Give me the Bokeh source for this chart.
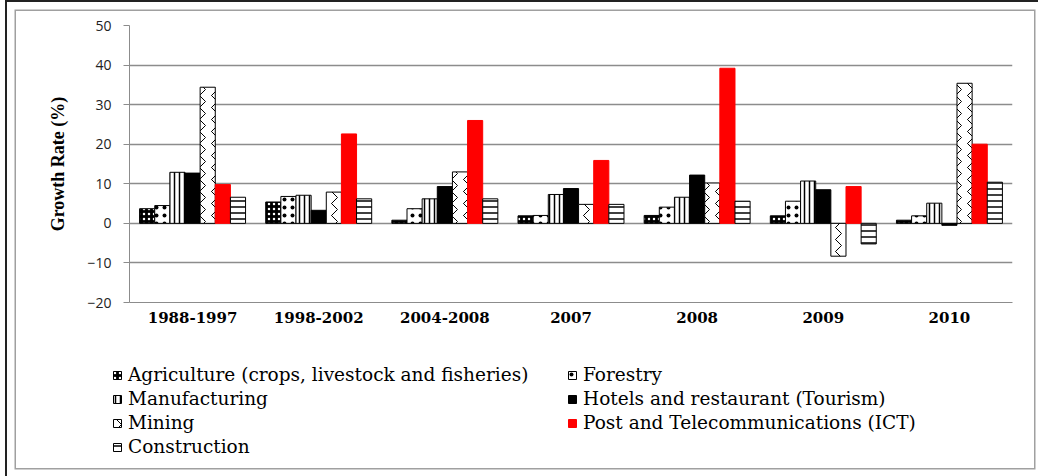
from bokeh.plotting import figure
from bokeh.layouts import column, row
from bokeh.models import (FactorRange, Range1d, Legend, LegendItem,
                          SingleIntervalTicker, ColumnDataSource)
from bokeh.transform import dodge
from bokeh.embed import file_html
from bokeh.resources import INLINE

periods = ["1988-1997", "1998-2002", "2004-2008", "2007", "2008", "2009", "2010"]
agriculture = [3.7, 5.4, 0.8, 1.9, 2.0, 1.9, 0.8]
forestry = [4.5, 6.8, 3.7, 2.0, 4.1, 5.6, 1.9]
manufacturing = [12.9, 7.1, 6.2, 7.3, 6.6, 10.7, 5.1]
hotels = [12.7, 3.3, 9.3, 8.8, 12.2, 8.5, -0.5]
mining = [34.4, 7.9, 13.0, 4.8, 10.2, -8.3, 35.4]
ict = [9.8, 22.6, 26.0, 15.9, 39.2, 9.3, 20.0]
construction = [6.6, 6.2, 6.2, 4.8, 5.6, -5.2, 10.4]

series_names = ["Agriculture (crops, livestock and fisheries)", "Forestry", "Manufacturing",
                "Hotels and restaurant (Tourism)", "Mining", "Post and Telecommunications (ICT)",
                "Construction"]
series_values = [agriculture, forestry, manufacturing, hotels, mining, ict, construction]

styles = [
    dict(fill_color="black", line_color="black", hatch_pattern="dot", hatch_color="white", hatch_scale=5, hatch_weight=2),
    dict(fill_color="white", line_color="black", hatch_pattern="dot", hatch_color="black", hatch_scale=8, hatch_weight=3),
    dict(fill_color="white", line_color="black", hatch_pattern="vertical_line", hatch_color="black", hatch_scale=5, hatch_weight=1.5),
    dict(fill_color="black", line_color="black"),
    dict(fill_color="white", line_color="black", hatch_pattern="vertical_wave", hatch_color="black", hatch_scale=12, hatch_weight=1),
    dict(fill_color="#ff0000", line_color="#ff0000"),
    dict(fill_color="white", line_color="black", hatch_pattern="horizontal_line", hatch_color="black", hatch_scale=6, hatch_weight=1.5),
]

data = {"period": periods}
for i, v in enumerate(series_values):
    data[f"s{i}"] = v
source = ColumnDataSource(data)

W = 1018
p = figure(width=W, height=329, x_range=FactorRange(*periods), y_range=Range1d(-20, 50),
           output_backend="svg", toolbar_location=None,
           min_border_left=113, min_border_right=22, min_border_top=14, min_border_bottom=38)
p.outline_line_color = None
p.xgrid.grid_line_color = None
p.ygrid.grid_line_color = "#8c8c8c"
p.ygrid.grid_line_width = 1.3

p.yaxis.ticker = SingleIntervalTicker(interval=10)
p.yaxis.axis_line_color = "#8c8c8c"
p.yaxis.major_tick_line_color = "#8c8c8c"
p.yaxis.major_tick_out = 6
p.yaxis.major_tick_in = 0
p.yaxis.minor_tick_line_color = None
p.yaxis.major_label_text_font = "Open Sans"
p.yaxis.major_label_text_font_size = "14px"
p.yaxis.major_label_text_color = "#222222"
p.yaxis.major_label_standoff = 12
p.yaxis.axis_label = "Growth Rate (%)"
p.yaxis.axis_label_text_font = "Liberation Serif"
p.yaxis.axis_label_text_font_style = "bold"
p.yaxis.axis_label_text_font_size = "18px"
p.yaxis.axis_label_text_color = "black"
p.yaxis.axis_label_standoff = 16

p.xaxis.axis_line_color = "#8c8c8c"
p.xaxis.major_tick_line_color = None
p.xaxis.major_tick_out = 0
p.xaxis.major_label_text_font = "DejaVu Serif"
p.xaxis.major_label_text_font_style = "bold"
p.xaxis.major_label_text_font_size = "15px"
p.xaxis.major_label_text_color = "black"
p.xaxis.major_label_standoff = 9

for i in range(7):
    p.vbar(x=dodge("period", (i - 3) * 0.12, range=p.x_range), top=f"s{i}", bottom=0,
           width=0.12, source=source, line_width=1, **styles[i])

# legend panel (swatch renderers sit outside the visible range; only the legend shows them)
pl = figure(width=W, height=128, x_range=Range1d(0, 1), y_range=Range1d(0, 1),
            x_axis_type=None, y_axis_type=None, output_backend="svg", toolbar_location=None,
            min_border=0, min_border_left=0, min_border_right=0, min_border_top=0, min_border_bottom=0)
pl.outline_line_color = None
pl.xgrid.grid_line_color = None
pl.ygrid.grid_line_color = None
leg_renderers = []
for i in range(7):
    r = pl.vbar(x=[5], top=[5], bottom=[4], width=0.1, line_width=1, **styles[i])
    leg_renderers.append(r)

common = dict(label_text_font="DejaVu Serif", label_text_font_size="18.5px", label_text_color="black",
              glyph_width=10, glyph_height=10, label_standoff=6, spacing=3,
              padding=0, margin=0, border_line_color=None, background_fill_alpha=0,
              label_height=17)
col1 = [0, 2, 4, 6]
col2 = [1, 3, 5]
leg1 = Legend(items=[LegendItem(label=series_names[i], renderers=[leg_renderers[i]]) for i in col1],
              location=(96, 11), **common)
leg2 = Legend(items=[LegendItem(label=series_names[i], renderers=[leg_renderers[i]]) for i in col2],
              location=(551, 35), **common)
pl.add_layout(leg1, "center")
pl.add_layout(leg2, "center")

layout = column(p, row(pl), spacing=0)
layout.margin = (11, 0, 0, 16)
layout.styles = {"box-shadow": "0 0 0 1.5px #a0a0a0", "outline": "2px solid #222222", "outline-offset": "9px"}

open("out.html", "w").write(file_html(layout, INLINE))
